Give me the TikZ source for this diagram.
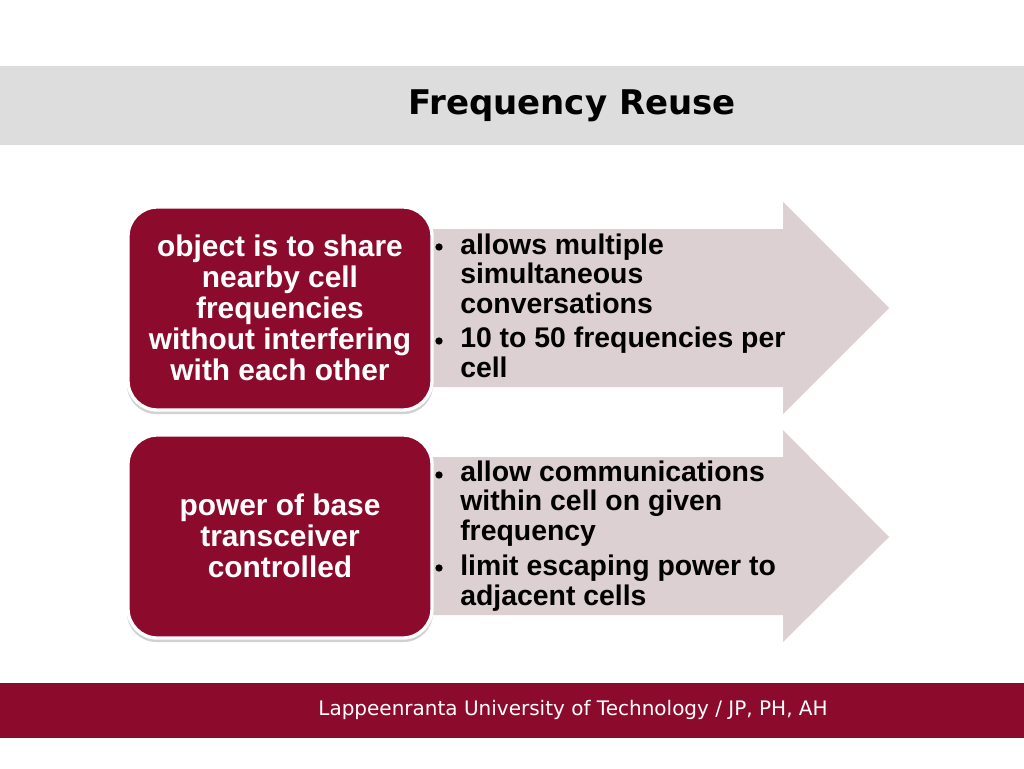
\documentclass[tikz,border=0pt]{standalone}
\usepackage{fontspec}
\setmainfont{Liberation Sans}
\newfontfamily\titlefont{DejaVu Sans}
\usetikzlibrary{positioning}
\definecolor{lutred}{RGB}{140,11,44}
\definecolor{bandgray}{RGB}{221,221,221}
\definecolor{arrowpink}{RGB}{221,208,210}
\tikzset{
  cellbox/.style={fill=lutred, draw=white, line width=2.5pt, rounded corners=22pt},
  boxshadow/.style={fill=black!18, rounded corners=22pt},
  boxtext/.style={text=white, font=\fontsize{22.4}{23.3}\selectfont\bfseries, align=center},
  itemtext/.style={font=\fontsize{21.3}{22.1}\selectfont\bfseries, align=left, anchor=base west, inner sep=0pt},
  dot/.style={circle, fill=black, inner sep=0pt, minimum size=5.5pt},
  bigarrow/.style={fill=arrowpink}
}
\begin{document}
\begin{tikzpicture}[x=0.75pt, y=-0.75pt]
    \useasboundingbox (0,0) rectangle (1024,768);
    \fill[white] (0,0) rectangle (1024,768);

    % Header
    \fill[bandgray] (0,66) rectangle (1024,145);
    \node[font=\titlefont\fontsize{25.5}{28}\selectfont\bfseries] (title) at (572,106) {Frequency Reuse};

    % Arrows
    \fill[bigarrow] (400,229) -- (783,229) -- (783,202) -- (889,308) -- (783,414) -- (783,387) -- (400,387) -- cycle;
    \fill[bigarrow] (400,457) -- (783,457) -- (783,430) -- (889,537) -- (783,642) -- (783,615) -- (400,615) -- cycle;

    % Boxes
    \fill[boxshadow] (127,211) rectangle (433,414);
    \draw[cellbox] (128,207) rectangle (432,410);
    \node[boxtext] (share) at (280,308) {object is to share\\nearby cell\\frequencies\\without interfering\\with each other};

    \fill[boxshadow] (127,439) rectangle (433,642);
    \draw[cellbox] (128,435) rectangle (432,638);
    \node[boxtext] (power) at (280,536) {power of base\\transceiver\\controlled};

    % Bullet items (placed by the baseline of their last line)
    \node[dot] (d1) at (439,247) {};
    \node[itemtext] (i1) at (460,313) {allows multiple\\simultaneous\\conversations};
    \node[dot] (d2) at (439,341) {};
    \node[itemtext] (i2) at (460,377) {10 to 50 frequencies per\\cell};

    \node[dot] (d3) at (439,475) {};
    \node[itemtext] (i3) at (460,540) {allow communications\\within cell on given\\frequency};
    \node[dot] (d4) at (439,568) {};
    \node[itemtext] (i4) at (460,605) {limit escaping power to\\adjacent cells};

    % Footer
    \fill[lutred] (0,683) rectangle (1024,738);
    \node[text=white, font=\titlefont\fontsize{15}{17}\selectfont] (foot) at (573,710) {Lappeenranta University of Technology / JP, PH, AH};
\end{tikzpicture}
\end{document}
